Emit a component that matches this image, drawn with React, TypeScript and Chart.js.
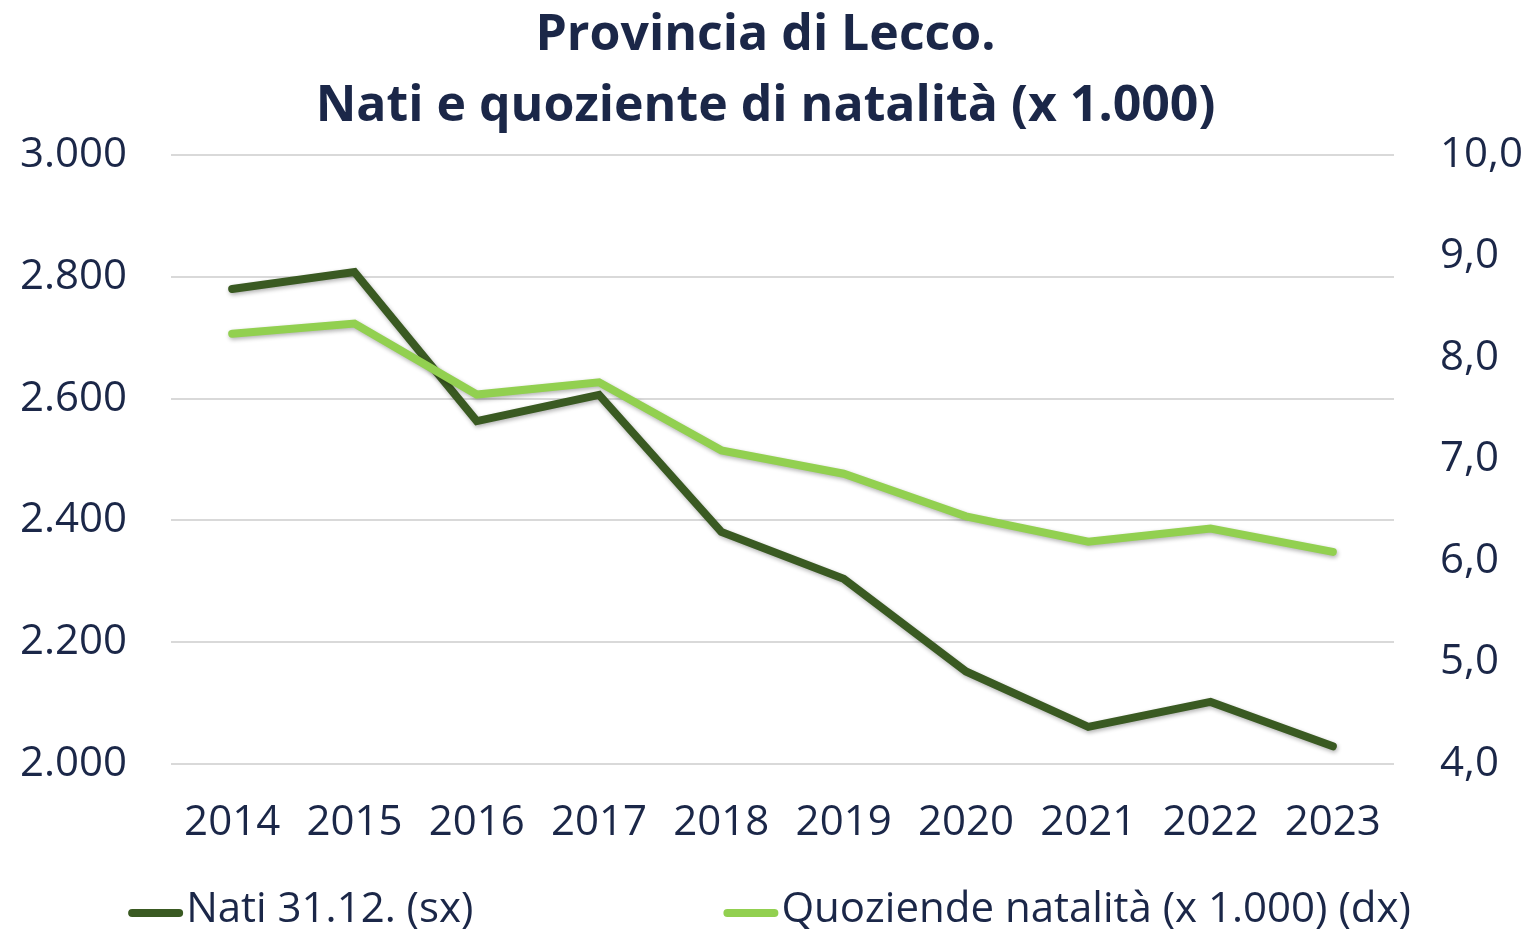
import React, { useEffect, useRef } from "react";
import { Chart, registerables } from "chart.js";

Chart.register(...registerables);

const years = ["2014", "2015", "2016", "2017", "2018", "2019", "2020", "2021", "2022", "2023"];
const nati = [2780, 2808, 2563, 2606, 2381, 2304, 2152, 2061, 2102, 2029];
const quoziente = [8.24, 8.34, 7.64, 7.76, 7.09, 6.86, 6.44, 6.19, 6.32, 6.09];
const titleLines = ["Provincia di Lecco.", "Nati e quoziente di natalità (x 1.000)"];
const seriesLabels = ["Nati 31.12. (sx)", "Quoziende natalità (x 1.000) (dx)"];

const FONT = "'Open Sans', 'Noto Sans', sans-serif";
const TEXT = "#1b2748";
const DARK = "#3a5a22";
const LIGHT = "#92d050";

const fmtThousands = (v: number) => String(Math.round(v)).replace(/\B(?=(\d{3})+(?!\d))/g, ".");
const fmtDecimal = (v: number) => Number(v).toFixed(1).replace(".", ",");

const shadowPlugin = {
  id: "lineShadow",
  beforeDatasetDraw(chart: any) {
    const c = chart.ctx;
    c.save();
    c.shadowColor = "rgba(0,0,0,0.3)";
    c.shadowBlur = 4;
    c.shadowOffsetX = 1;
    c.shadowOffsetY = 2;
  },
  afterDatasetDraw(chart: any) {
    chart.ctx.restore();
  },
};

const bottomLegend = {
  id: "bottomLegend",
  afterDraw(chart: any) {
    const ctx = chart.ctx;
    ctx.save();
    ctx.font = `42px ${FONT}`;
    ctx.textBaseline = "middle";
    ctx.textAlign = "left";
    const symW = 55;
    const items = chart.data.datasets.map((ds: any) => ({
      text: ds.label,
      color: ds.borderColor,
      w: symW + 3 + ctx.measureText(ds.label).width,
    }));
    const gap = 250;
    const total = items.reduce((a: number, it: any) => a + it.w, 0) + gap * (items.length - 1);
    let x = (chart.width - total) / 2 + 4;
    const y = 910;
    items.forEach((it: any) => {
      ctx.strokeStyle = it.color;
      ctx.lineWidth = 8;
      ctx.lineCap = "round";
      ctx.beginPath();
      ctx.moveTo(x + 4, y + 3);
      ctx.lineTo(x + symW - 4, y + 3);
      ctx.stroke();
      ctx.fillStyle = TEXT;
      ctx.fillText(it.text, x + symW + 3, y);
      x += it.w + gap;
    });
    ctx.restore();
  },
};

export default function App() {
  const ref = useRef<HTMLCanvasElement | null>(null);

  useEffect(() => {
    if (!ref.current) return;
    const chart = new Chart(ref.current, {
      type: "line",
      data: {
        labels: years,
        datasets: [
          {
            label: seriesLabels[0],
            data: nati,
            yAxisID: "y",
            borderColor: DARK,
            backgroundColor: DARK,
            borderWidth: 8,
            pointRadius: 0,
            borderCapStyle: "round",
            borderJoinStyle: "miter",
            tension: 0,
            order: 1,
          },
          {
            label: seriesLabels[1],
            data: quoziente,
            yAxisID: "y1",
            borderColor: LIGHT,
            backgroundColor: LIGHT,
            borderWidth: 8,
            pointRadius: 0,
            borderCapStyle: "round",
            borderJoinStyle: "miter",
            tension: 0,
            order: 0,
          },
        ],
      },
      options: {
        responsive: false,
        animation: false,
        layout: { padding: { top: 0, bottom: 67, left: 0, right: 0 } },
        plugins: {
          legend: { display: false },
          tooltip: { enabled: false },
          title: {
            display: true,
            text: titleLines,
            color: TEXT,
            font: { family: FONT, size: 50, weight: "bold", lineHeight: 1.42 },
            padding: { top: 0, bottom: 13 },
          },
        },
        scales: {
          x: {
            offset: true,
            grid: { display: false, drawTicks: false },
            border: { display: false },
            ticks: { padding: 34, color: TEXT, font: { family: FONT, size: 42 }, maxRotation: 0 },
            afterFit: (s: any) => {
              s.height = 100;
            },
          },
          y: {
            position: "left",
            min: 2000,
            max: 3000,
            grid: { color: "#d9d9d9", lineWidth: 2, drawTicks: false },
            border: { display: false },
            ticks: {
              stepSize: 200,
              padding: 44,
              color: TEXT,
              font: { family: FONT, size: 42 },
              callback: (v: any) => fmtThousands(Number(v)),
            },
            afterFit: (s: any) => {
              s.width = 171;
            },
          },
          y1: {
            position: "right",
            min: 4,
            max: 10,
            grid: { display: false, drawTicks: false },
            border: { display: false },
            ticks: {
              stepSize: 1,
              padding: 46,
              color: TEXT,
              font: { family: FONT, size: 42 },
              callback: (v: any) => fmtDecimal(Number(v)),
            },
            afterFit: (s: any) => {
              s.width = 137;
            },
          },
        },
      },
      plugins: [shadowPlugin, bottomLegend],
    } as any);
    return () => chart.destroy();
  }, []);

  return (
    <div style={{ position: "absolute", left: 0, top: 0, width: 1531, height: 931, background: "#fff" }}>
      <canvas ref={ref} width={1531} height={931} style={{ display: "block" }} />
    </div>
  );
}
